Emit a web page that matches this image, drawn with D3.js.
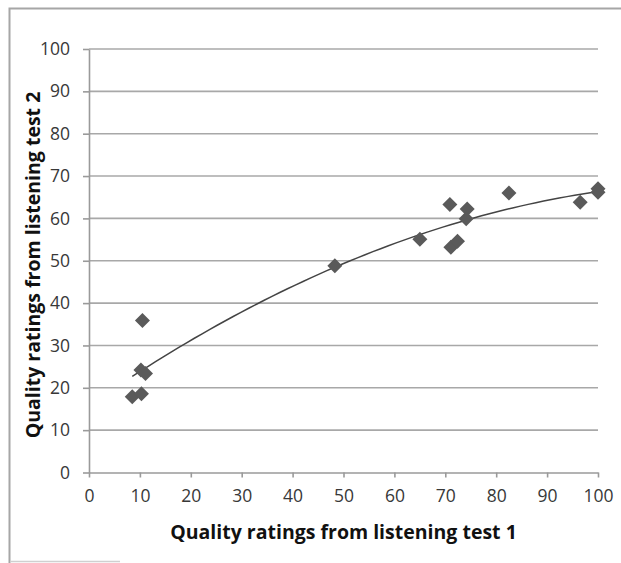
<!DOCTYPE html>
<html>
<head>
<meta charset="utf-8">
<script src="https://cdn.jsdelivr.net/npm/d3@7"></script>
<style>
  body { margin: 0; background: #fff; }
  svg { display: block; }
</style>
</head>
<body>
<div id="chart"></div>
<script>
// Chart size and plot margins
const W = 621, H = 563;
const margin = {top: 49, right: 23, bottom: 90.5, left: 89},
    width = W - margin.left - margin.right,
    height = H - margin.top - margin.bottom;

// Data
const test1 = [8.5, 10.3, 10.2, 11.1, 10.5, 48.3, 65.0, 70.9, 71.1, 72.4, 74.3, 74.1, 82.5, 96.5, 100, 100];
const test2 = [17.9, 18.6, 24.2, 23.4, 35.9, 48.8, 55.1, 63.3, 53.2, 54.6, 62.2, 59.9, 66.0, 63.8, 67.0, 66.2];
const xTicks = [0, 10, 20, 30, 40, 50, 60, 70, 80, 90, 100];
const yTicks = [0, 10, 20, 30, 40, 50, 60, 70, 80, 90, 100];

const points = test1.map((x, i) => ({x: x, y: test2[i]}));

const svg = d3.select('#chart')
    .append("svg")
    .attr("width", W)
    .attr("height", H);

// outer frame (chart area border)
svg.append("path")
    .attr("d", "M9.5,563 V8.5 H621")
    .attr("fill", "none")
    .attr("stroke", "#a6a6a6")
    .attr("stroke-width", 2);
svg.append("line")
    .attr("x1", 10).attr("x2", 120)
    .attr("y1", 561.5).attr("y2", 561.5)
    .attr("stroke", "#d0d0d0")
    .attr("stroke-width", 1.5);

const g = svg.append("g")
    .attr("transform", "translate(" + margin.left + "," + margin.top + ")");

const x = d3.scaleLinear().domain([0, 100]).range([0, width]);
const y = d3.scaleLinear().domain([0, 100]).range([height, 0]);

// horizontal gridlines
g.append("g")
    .selectAll("line")
    .data(yTicks.filter(d => d > 0))
    .join("line")
    .attr("x1", 0)
    .attr("x2", width)
    .attr("y1", d => y(d))
    .attr("y2", d => y(d))
    .attr("stroke", "#a8a8a8")
    .attr("stroke-width", 1.6);

// X axis
const xAxis = g.append("g")
    .attr("transform", "translate(0," + height + ")")
    .call(d3.axisBottom(x).tickValues(xTicks).tickSize(5).tickPadding(12).tickSizeOuter(0));

// Y axis
const yAxis = g.append("g")
    .call(d3.axisLeft(y).tickValues(yTicks).tickSize(6).tickPadding(13).tickSizeOuter(0));

[xAxis, yAxis].forEach(a => {
    a.select(".domain").attr("stroke", "#9a9a9a").attr("stroke-width", 1.6);
    a.selectAll(".tick line").attr("stroke", "#9a9a9a").attr("stroke-width", 1.6);
    a.selectAll("text")
        .attr("fill", "#383838")
        .style("font-family", "'Open Sans', sans-serif")
        .style("font-size", "17.5px");
});

// Polynomial (order 2) trendline, least squares fit of the points
function quadFit(pts) {
    let s = [0, 0, 0, 0, 0], t = [0, 0, 0];
    pts.forEach(p => {
        let xp = 1;
        for (let k = 0; k < 5; k++) { s[k] += xp; if (k < 3) t[k] += xp * p.y; xp *= p.x; }
    });
    const A = [[s[0], s[1], s[2], t[0]], [s[1], s[2], s[3], t[1]], [s[2], s[3], s[4], t[2]]];
    for (let i = 0; i < 3; i++) {
        for (let j = i + 1; j < 3; j++) {
            const f = A[j][i] / A[i][i];
            for (let k = i; k < 4; k++) A[j][k] -= f * A[i][k];
        }
    }
    const c = [0, 0, 0];
    for (let i = 2; i >= 0; i--) {
        let v = A[i][3];
        for (let k = i + 1; k < 3; k++) v -= A[i][k] * c[k];
        c[i] = v / A[i][i];
    }
    return c;
}
const coef = quadFit(points);
const xMin = d3.min(test1), xMax = d3.max(test1);
const trend = d3.range(0, 61).map(i => {
    const xv = xMin + (xMax - xMin) * i / 60;
    return {x: xv, y: coef[0] + coef[1] * xv + coef[2] * xv * xv};
});

g.append("path")
    .datum(trend)
    .attr("fill", "none")
    .attr("stroke", "#444")
    .attr("stroke-width", 1.5)
    .attr("d", d3.line().x(d => x(d.x)).y(d => y(d.y)));

// Diamond markers
g.selectAll("mypoint")
    .data(points)
    .join("path")
    .attr("transform", d => "translate(" + x(d.x) + "," + y(d.y) + ")")
    .attr("d", "M0,-7.5 L7.5,0 L0,7.5 L-7.5,0 Z")
    .attr("fill", "#5a5a5a");

// Axis titles
svg.append("text")
    .attr("x", margin.left + width / 2)
    .attr("y", 539)
    .attr("text-anchor", "middle")
    .style("font-family", "'Open Sans', sans-serif")
    .style("font-size", "19.5px")
    .style("font-weight", "bold")
    .attr("fill", "#111")
    .text("Quality ratings from listening test 1");

svg.append("text")
    .attr("transform", "translate(40," + 265 + ") rotate(-90)")
    .attr("text-anchor", "middle")
    .style("font-family", "'Open Sans', sans-serif")
    .style("font-size", "19.5px")
    .style("font-weight", "bold")
    .attr("fill", "#111")
    .text("Quality ratings from listening test 2");
</script>
</body>
</html>
